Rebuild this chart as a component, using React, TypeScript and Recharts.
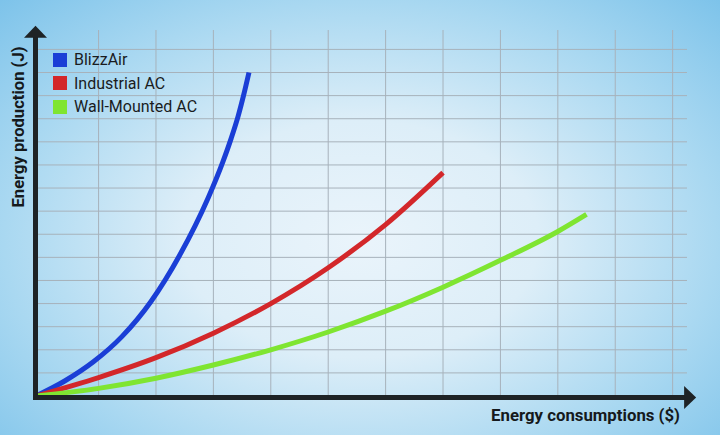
import React from 'react';
import { LineChart, Line, XAxis, YAxis, CartesianGrid, Legend, ReferenceLine } from 'recharts';

// grid positions (one cell = one unit on each axis)
const gridX = [1.09, 2.09, 3.09, 4.09, 5.09, 6.09, 7.09, 8.09, 9.09, 10.09, 11.09];
const gridY = [1, 2, 3, 4, 5, 6, 7, 8, 9, 10, 11, 12, 13, 14, 15];

const X_MAX = 11.34;
const Y_MAX = 15.84;

// values, in grid units
const blizzAirX = [0, 0.5, 1.0, 1.5, 2.0, 2.5, 3.0, 3.25, 3.4, 3.52, 3.62, 3.71];
const blizzAirY = [0, 0.65, 1.48, 2.58, 4.08, 6.08, 8.58, 10.1, 11.15, 12.1, 13.05, 14.0];

const industrialX = [0, 1.09, 2.09, 3.09, 4.09, 5.09, 6.09, 7.09];
const industrialY = [0, 0.8, 1.66, 2.72, 4.0, 5.55, 7.42, 9.67];

const wallMountedX = [0, 1.09, 2.09, 3.09, 4.09, 5.09, 6.09, 7.09, 8.09, 9.09, 9.59];
const wallMountedY = [0, 0.33, 0.77, 1.34, 2.0, 2.77, 3.67, 4.71, 5.87, 7.12, 7.86];

const toPoints = (xs: number[], ys: number[]) => xs.map((x, i) => ({ x, y: ys[i] }));

const series = [
  { name: 'BlizzAir', color: '#1a3ed6', data: toPoints(blizzAirX, blizzAirY) },
  { name: 'Industrial AC', color: '#d3272a', data: toPoints(industrialX, industrialY) },
  { name: 'Wall-Mounted AC', color: '#7fe531', data: toPoints(wallMountedX, wallMountedY) },
];

const AXIS_COLOR = '#1e2326';
const TITLE_FONT = 'Roboto, sans-serif';

// axis shaft with a triangular head at the far end
function ArrowAxis(props: any) {
  const { x1, y1, x2, y2 } = props;
  const dx = x2 - x1;
  const dy = y2 - y1;
  const len = Math.sqrt(dx * dx + dy * dy) || 1;
  const ux = dx / len;
  const uy = dy / len;
  const head = 12;
  const half = 11.5;
  const tipX = x2 + ux * head;
  const tipY = y2 + uy * head;
  const p1 = `${x2 - uy * half},${y2 + ux * half}`;
  const p2 = `${x2 + uy * half},${y2 - ux * half}`;
  return (
    <g>
      <line
        x1={x1 - ux * 3}
        y1={y1 - uy * 3}
        x2={x2 + ux * 1}
        y2={y2 + uy * 1}
        stroke={AXIS_COLOR}
        strokeWidth={5}
      />
      <polygon points={`${p1} ${p2} ${tipX},${tipY}`} fill={AXIS_COLOR} />
    </g>
  );
}

function LegendList(props: any) {
  const { payload } = props;
  return (
    <div style={{ fontFamily: TITLE_FONT }}>
      {(payload || []).map((entry: any) => (
        <div key={entry.value} style={{ display: 'flex', alignItems: 'center', height: 23.5 }}>
          <span style={{ width: 14, height: 14, background: entry.color, display: 'inline-block', marginRight: 7 }} />
          <span style={{ fontSize: 16, color: '#1a1c1e' }}>{entry.value}</span>
        </div>
      ))}
    </div>
  );
}

const gridXCoords = ({ xAxis, offset }: any) =>
  gridX.map((v) =>
    xAxis && typeof xAxis.scale === 'function' ? xAxis.scale(v) : offset.left + (v / X_MAX) * offset.width
  );

const gridYCoords = ({ yAxis, offset }: any) =>
  gridY.map((v) =>
    yAxis && typeof yAxis.scale === 'function'
      ? yAxis.scale(v)
      : offset.top + offset.height - (v / Y_MAX) * offset.height
  );

export default function App() {
  return (
    <div
      style={{
        position: 'absolute',
        left: 0,
        top: 0,
        width: 720,
        height: 435,
        overflow: 'hidden',
        background:
          'radial-gradient(ellipse farthest-corner at 50% 55%, #eaf4fb 0%, #ddeef8 35%, #a9d8f1 70%, #7dc3ea 100%)',
      }}
    >
      <LineChart width={720} height={435} margin={{ top: 30, right: 33, bottom: 39, left: 36 }}>
        <CartesianGrid
          stroke="#a7b2bb"
          strokeWidth={1}
          verticalCoordinatesGenerator={gridXCoords}
          horizontalCoordinatesGenerator={gridYCoords}
        />
        <XAxis
          type="number"
          dataKey="x"
          domain={[0, X_MAX]}
          ticks={gridX}
          allowDataOverflow
          height={0}
          tick={false}
          tickLine={false}
          axisLine={false}
        />
        <YAxis
          type="number"
          dataKey="y"
          domain={[0, Y_MAX]}
          ticks={gridY}
          allowDataOverflow
          width={0}
          tick={false}
          tickLine={false}
          axisLine={false}
        />
        {series.map((s) => (
          <Line
            key={s.name}
            name={s.name}
            data={s.data}
            dataKey="y"
            type="monotone"
            stroke={s.color}
            strokeWidth={5}
            dot={false}
            activeDot={false}
            isAnimationActive={false}
          />
        ))}
        <ReferenceLine
          segment={[{ x: 0, y: 0 }, { x: 11.29, y: 0 }]}
          ifOverflow="visible"
          shape={(p: any) => <ArrowAxis {...p} y1={p.y1 + 1.5} y2={p.y2 + 1.5} />}
        />
        <ReferenceLine
          segment={[{ x: 0, y: 0 }, { x: 0, y: 15.5 }]}
          ifOverflow="visible"
          shape={(p: any) => <ArrowAxis {...p} x1={p.x1 - 0.5} x2={p.x2 - 0.5} />}
        />
        <Legend
          layout="vertical"
          align="center"
          verticalAlign="middle"
          wrapperStyle={{ left: 53, top: 48, width: 'auto' }}
          content={<LegendList />}
        />
      </LineChart>
      <div
        style={{
          position: 'absolute',
          left: 18,
          top: 127,
          transform: 'translate(-50%, -50%) rotate(-90deg)',
          whiteSpace: 'nowrap',
          fontFamily: TITLE_FONT,
          fontWeight: 700,
          fontSize: 16.6,
          color: '#15191c',
        }}
      >
        Energy production (J)
      </div>
      <div
        style={{
          position: 'absolute',
          right: 720 - 680,
          top: 405,
          whiteSpace: 'nowrap',
          fontFamily: TITLE_FONT,
          fontWeight: 700,
          fontSize: 16.8,
          color: '#15191c',
        }}
      >
        Energy consumptions ($)
      </div>
    </div>
  );
}
